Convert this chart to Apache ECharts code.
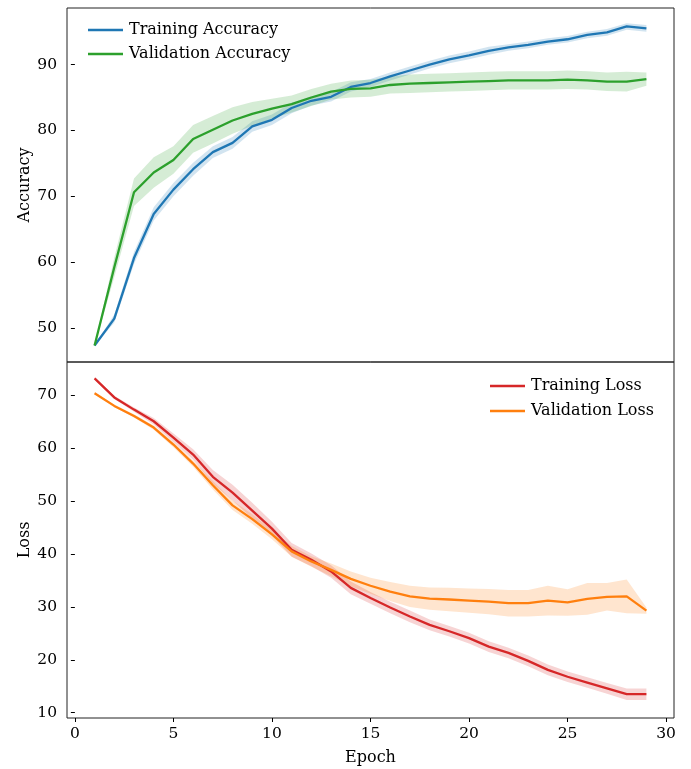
<!DOCTYPE html>
<html><head><meta charset="utf-8">
<script src="https://cdn.jsdelivr.net/npm/echarts@6/dist/echarts.min.js"></script>
<style>html,body{margin:0;padding:0;background:#fff}#c{width:691px;height:769px}</style>
</head><body><div id="c"></div>
<script>
const epochs = [1,2,3,4,5,6,7,8,9,10,11,12,13,14,15,16,17,18,19,20,21,22,23,24,25,26,27,28,29];
const accTrain = [47.3,51.4,60.6,67.3,71.0,74.1,76.7,78.1,80.6,81.6,83.4,84.5,85.1,86.6,87.2,88.2,89.1,90.0,90.8,91.4,92.1,92.6,93.0,93.5,93.85,94.5,94.9,95.8,95.5];
const accTrainStd = [0.1,0.6,0.9,1.0,1.0,1.0,0.9,0.9,0.8,0.8,0.8,0.7,0.7,0.7,0.6,0.6,0.6,0.6,0.6,0.6,0.6,0.5,0.5,0.5,0.5,0.5,0.5,0.5,0.5];
const accVal = [47.3,59.2,70.6,73.6,75.5,78.7,80.1,81.5,82.5,83.3,84.0,85.0,85.9,86.3,86.4,86.9,87.1,87.2,87.3,87.4,87.5,87.6,87.6,87.6,87.7,87.6,87.4,87.4,87.8];
const accValStd = [0.1,1.5,2.1,2.3,2.1,2.1,2.1,2.0,1.8,1.5,1.3,1.3,1.2,1.3,1.3,1.3,1.4,1.4,1.4,1.4,1.4,1.4,1.4,1.4,1.4,1.4,1.4,1.5,1.0];
const lossTrain = [73.2,69.6,67.3,65.1,62.0,58.8,54.6,51.6,48.2,44.8,40.8,38.9,36.7,33.6,31.7,29.9,28.2,26.6,25.4,24.1,22.5,21.3,19.8,18.1,16.8,15.7,14.6,13.5,13.5];
const lossTrainStd = [0.2,0.3,0.4,0.6,0.8,1.0,1.3,1.5,1.5,1.3,1.3,1.2,1.2,1.2,1.1,1.1,1.1,1.0,1.0,1.0,1.0,1.0,1.0,1.0,1.0,1.0,1.0,1.1,1.1];
const lossVal = [70.4,68.0,66.1,63.9,60.7,57.1,53.0,49.2,46.6,43.7,40.5,38.6,37.0,35.3,34.0,32.9,32.0,31.55,31.4,31.2,31.0,30.7,30.7,31.2,30.85,31.5,31.9,32.0,29.3];
const lossValStd = [0.2,0.2,0.3,0.4,0.5,0.6,0.8,0.9,0.9,0.9,1.0,1.0,1.2,1.4,1.5,1.8,2.0,2.1,2.2,2.3,2.4,2.5,2.5,2.8,2.5,3.0,2.6,3.2,0.6];
const xTicks = [0,5,10,15,20,25,30];
const accTicks = [50,60,70,80,90];
const lossTicks = [10,20,30,40,50,60,70];

const FONT = 'DejaVu Serif';
const chart = echarts.init(document.getElementById('c'), null, {renderer:'canvas'});

function pairs(ys){ return epochs.map((x,i)=>[x, ys[i]]); }
function band(name, idx, mean, std, color){
  return {
    type:'custom', name:name, xAxisIndex:idx, yAxisIndex:idx, silent:true, z:1,
    data:[[epochs[0], mean[0]]],
    encode:{x:0, y:1},
    renderItem:function(params, api){
      const pts=[];
      for(let i=0;i<epochs.length;i++) pts.push(api.coord([epochs[i], mean[i]+std[i]]));
      for(let i=epochs.length-1;i>=0;i--) pts.push(api.coord([epochs[i], mean[i]-std[i]]));
      return {type:'polygon', shape:{points:pts}, style:{fill:color, opacity:0.2, stroke:null}};
    }
  };
}
function line(name, idx, ys, color, z){
  return {type:'line', name:name, xAxisIndex:idx, yAxisIndex:idx, data:pairs(ys),
    showSymbol:false, symbol:'none', lineStyle:{color:color, width:2.3}, itemStyle:{color:color}, z:z, animation:false};
}
const tickStyle = {show:true, length:4, inside:false, lineStyle:{color:'#000', width:1}};
const lblStyle = {color:'#000', fontFamily:FONT, fontSize:15.5};
function yAxis(idx, min, max, ticks, name){
  return {type:'value', gridIndex:idx, min:min, max:max, name:name, nameLocation:'middle', nameGap:34,
    nameMoveOverlap:false,
    nameTextStyle:{color:'#000', fontFamily:FONT, fontSize:16},
    axisLine:{show:false}, splitLine:{show:false},
    axisTick:Object.assign({customValues:ticks}, tickStyle),
    axisLabel:Object.assign({customValues:ticks, margin:10}, lblStyle)};
}
const legendBase = {orient:'vertical', icon:'rect', itemWidth:35, itemHeight:2.4, itemGap:8,
  textStyle:{color:'#000', fontFamily:FONT, fontSize:16, padding:[0,0,0,1], lineHeight:16}};

chart.setOption({
  animation:false,
  backgroundColor:'#fff',
  grid:[
    {left:67, top:8, width:607, height:354, show:true, borderColor:'#222', borderWidth:1, backgroundColor:'transparent'},
    {left:67, top:362, width:607, height:356, show:true, borderColor:'#222', borderWidth:1, backgroundColor:'transparent'}
  ],
  legend:[
    Object.assign({}, legendBase, {left:83, top:17, data:['Training Accuracy','Validation Accuracy']}),
    Object.assign({}, legendBase, {left:485, top:373, itemGap:9, data:['Training Loss','Validation Loss']})
  ],
  xAxis:[
    {type:'value', gridIndex:0, min:-0.4, max:30.4, axisLine:{show:false}, axisTick:{show:false}, axisLabel:{show:false}, splitLine:{show:false}},
    {type:'value', gridIndex:1, min:-0.4, max:30.4, name:'Epoch', nameLocation:'middle', nameGap:32,
      nameMoveOverlap:false,
      nameTextStyle:{color:'#000', fontFamily:FONT, fontSize:16},
      axisLine:{show:false}, splitLine:{show:false},
      axisTick:Object.assign({customValues:xTicks}, tickStyle),
      axisLabel:Object.assign({customValues:xTicks, margin:8}, lblStyle)}
  ],
  yAxis:[
    yAxis(0, 44.8, 98.6, accTicks, 'Accuracy'),
    yAxis(1, 9.0, 76.3, lossTicks, 'Loss')
  ],
  series:[
    band('Training Accuracy band', 0, accTrain, accTrainStd, '#1f77b4'),
    band('Validation Accuracy band', 0, accVal, accValStd, '#2ca02c'),
    line('Training Accuracy', 0, accTrain, '#1f77b4', 3),
    line('Validation Accuracy', 0, accVal, '#2ca02c', 4),
    band('Training Loss band', 1, lossTrain, lossTrainStd, '#d62728'),
    band('Validation Loss band', 1, lossVal, lossValStd, '#ff7f0e'),
    line('Training Loss', 1, lossTrain, '#d62728', 3),
    line('Validation Loss', 1, lossVal, '#ff7f0e', 4)
  ]
});
</script></body></html>
